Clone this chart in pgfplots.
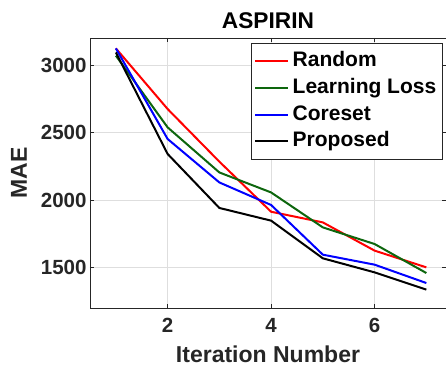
\documentclass[border=0pt]{standalone}
\usepackage{fontspec}
\setmainfont{Liberation Sans}
\usepackage{pgfplots}
\pgfplotsset{compat=1.18}
\definecolor{axgray}{rgb}{0.15,0.15,0.15}
\definecolor{dgreen}{rgb}{0.05,0.4,0.05}
\definecolor{gridgray}{rgb}{0.87,0.87,0.87}
\begin{document}
\begin{tikzpicture}
\begin{axis}[
  scale only axis, width=356pt, height=270pt,
  xmin=0.5, xmax=7.38, ymin=1200, ymax=3200,
  xtick={2,4,6}, ytick={1500,2000,2500,3000},
  grid=major,
  major grid style={draw=gridgray, line width=0.6pt},
  axis line style={draw=axgray, line width=0.8pt},
  tick style={draw=axgray, line width=0.6pt},
  tick align=inside, major tick length=4pt,
  /pgf/number format/assume math mode=true,
  /pgf/number format/1000 sep={},
  ticklabel style={font=\fontsize{20.5}{24}\selectfont\bfseries, text=axgray},
  xticklabel style={yshift=-7pt},
  title={ASPIRIN},
  title style={font=\fontsize{22.7}{26}\selectfont\bfseries, yshift=0pt},
  xlabel={Iteration Number},
  ylabel={MAE},
  label style={font=\fontsize{23}{27}\selectfont\bfseries, text=axgray},
  xlabel style={yshift=-6pt},
  ylabel style={yshift=7pt},
  legend cell align=left,
  legend style={at={(1,1)}, anchor=north east, xshift=-3pt, yshift=-5pt,
    font=\fontsize{21}{25}\selectfont\bfseries, draw=axgray, line width=0.8pt,
    nodes={text height=15.5pt, text depth=4.5pt, inner sep=3.35pt},
    inner ysep=4.5pt, row sep=0pt},
  legend image code/.code={\draw[#1, line width=2pt] (0pt,0pt) -- (33pt,0pt);},
  every axis plot/.append style={line width=2pt},
]
\addplot[red] coordinates {(1,3123) (2,2674) (3,2284) (4,1913) (5,1834) (6,1625) (7,1501)};
\addlegendentry{Random}
\addplot[dgreen] coordinates {(1,3069) (2,2538) (3,2204) (4,2056) (5,1797) (6,1674) (7,1459)};
\addlegendentry{Learning Loss}
\addplot[blue] coordinates {(1,3123) (2,2452) (3,2130) (4,1963) (5,1595) (6,1521) (7,1385)};
\addlegendentry{Coreset}
\addplot[black] coordinates {(1,3093) (2,2341) (3,1941) (4,1847) (5,1568) (6,1464) (7,1336)};
\addlegendentry{Proposed}
\end{axis}
\pgfresetboundingbox
\path ([xshift=-90pt,yshift=-60pt]current axis.south west) rectangle ([yshift=38pt]current axis.north east);
\end{tikzpicture}
\end{document}
